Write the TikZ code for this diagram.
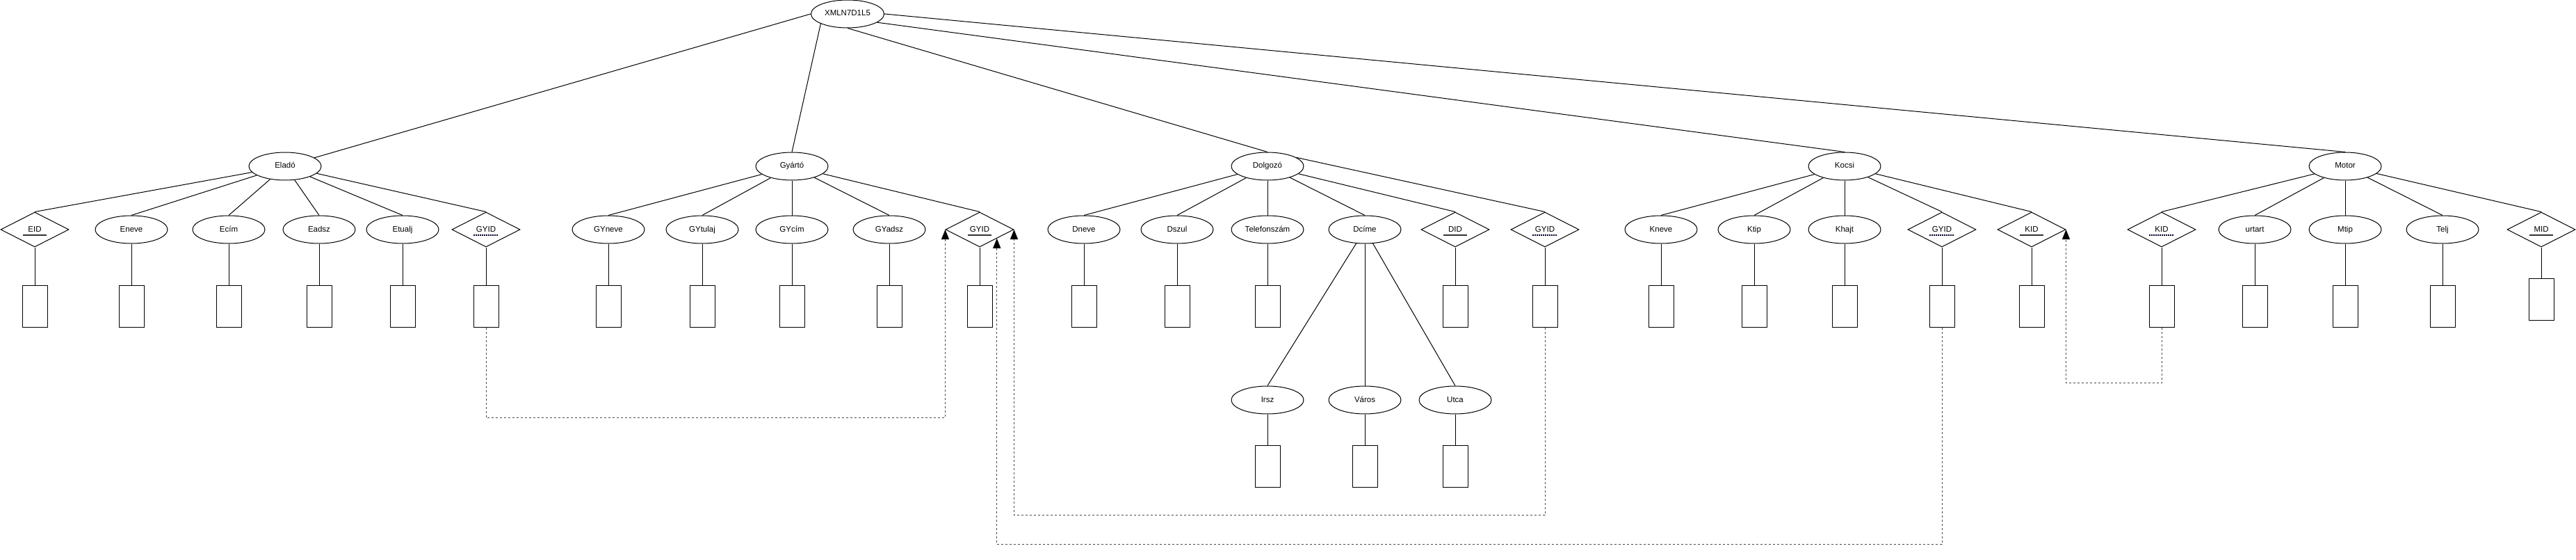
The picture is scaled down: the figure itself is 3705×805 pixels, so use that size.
\documentclass[tikz,border=0pt]{standalone}
\usepackage{fontspec}
\setmainfont{Liberation Sans}
\usetikzlibrary{shapes.geometric,arrows.meta,calc}
\begin{document}
\begin{tikzpicture}[x=1pt,y=-1pt,line width=1pt,
  every node/.style={font=\fontsize{11.5}{13}\selectfont, text height=8.4pt, text depth=2.4pt},
  ent/.style={draw, ellipse, minimum width=104pt, minimum height=40pt, inner sep=0pt},
  attr/.style={ent},
  keyd/.style={draw, diamond, aspect=2, minimum width=98pt, minimum height=50pt, inner sep=0pt},
  dom/.style={draw, rectangle, minimum width=36pt, minimum height=60pt, inner sep=0pt},
  fk/.style={black!70, dash pattern=on 3pt off 3pt, -{Triangle[length=14pt,width=11pt,fill=black,color=black]}},
  pkul/.style={line width=1.6pt, black!80},
  fkul/.style={line width=1.6pt, black!85!blue, dash pattern=on 2pt off 1pt},
]
\useasboundingbox (0,0) rectangle (3705,805);

% root and entities
\node[ent, minimum width=105pt] (root) at (1219,20) {XMLN7D1L5};
\node[ent] (Elado)   at (410,239)  {Eladó};
\node[ent] (Gyarto)  at (1139,239) {Gyártó};
\node[ent] (Dolgozo) at (1823,239) {Dolgozó};
\node[ent] (Kocsi)   at (2653,239) {Kocsi};
\node[ent] (Motor)   at (3373,239) {Motor};

% Elado attributes
\node[keyd] (EID)    at (50,330)  {EID};
\node[attr] (Eneve)  at (189,330) {Eneve};
\node[attr] (Ecim)   at (329,330) {Ecím};
\node[attr] (Eadsz)  at (459,330) {Eadsz};
\node[attr] (Etualj) at (579,330) {Etualj};
\node[keyd] (GYIDa)  at (699,330) {GYID};
% Gyarto attributes
\node[attr] (GYneve)  at (875,330)  {GYneve};
\node[attr] (GYtulaj) at (1010,330) {GYtulaj};
\node[attr] (GYcim)   at (1139,330) {GYcím};
\node[attr] (GYadsz)  at (1279,330) {GYadsz};
\node[keyd] (GYIDb)   at (1409,330) {GYID};
% Dolgozo attributes
\node[attr] (Dneve) at (1559,330) {Dneve};
\node[attr] (Dszul) at (1693,330) {Dszul};
\node[attr] (Tel)   at (1823,330) {Telefonszám};
\node[attr] (Dcime) at (1963,330) {Dcíme};
\node[keyd] (DID)   at (2093,330) {DID};
\node[keyd] (GYIDc) at (2222,330) {GYID};
% Kocsi attributes
\node[attr] (Kneve) at (2389,330) {Kneve};
\node[attr] (Ktip)  at (2523,330) {Ktip};
\node[attr] (Khajt) at (2653,330) {Khajt};
\node[keyd] (GYIDd) at (2793,330) {GYID};
\node[keyd] (KIDa)  at (2922,330) {KID};
% Motor attributes
\node[keyd] (KIDb)   at (3109,330) {KID};
\node[attr] (urtart) at (3243,330) {urtart};
\node[attr] (Mtip)   at (3373,330) {Mtip};
\node[attr] (Telj)   at (3513,330) {Telj};
\node[keyd] (MID)    at (3655,330) {MID};
% Dcime sub-attributes
\node[attr] (Irsz)  at (1823,575) {Irsz};
\node[attr] (Varos) at (1963,575) {Város};
\node[attr] (Utca)  at (2093,575) {Utca};

% key underlines
\foreach \k in {EID,GYIDb,DID,KIDa,MID}
  \draw[pkul] ([xshift=-17pt,yshift=-8pt]\k.center) -- ++(34,0);
\foreach \k in {GYIDa,GYIDc,GYIDd,KIDb}
  \draw[fkul] ([xshift=-18pt,yshift=-8pt]\k.center) -- ++(36,0);

% domain boxes
\foreach \n in {EID,Eneve,Ecim,Eadsz,Etualj,GYIDa,GYneve,GYtulaj,GYcim,GYadsz,GYIDb,Dneve,Dszul,Tel,DID,GYIDc,Kneve,Ktip,Khajt,GYIDd,KIDa,KIDb,urtart,Mtip,Telj}{
  \node[dom] (r\n) at ($(\n.center)+(0,110)$) {};
  \draw (\n.south) -- (r\n.north);
}
\node[dom] (rMID) at ($(MID.center)+(0,100)$) {};
\draw (MID.south) -- (rMID.north);
\foreach \n in {Irsz,Varos,Utca}{
  \node[dom] (r\n) at ($(\n.center)+(0,95)$) {};
  \draw (\n.south) -- (r\n.north);
}

% root connectors
\draw (root.west) -- (Elado);
\draw (root.200) -- (Gyarto.north);
\draw (root.south) -- (Dolgozo.north);
\draw (root.344) -- (Kocsi.north);
\draw (root.east) -- (Motor.north);

% entity to attribute connectors
\foreach \a in {EID,Eneve,Ecim,Eadsz,Etualj,GYIDa}
  \draw (Elado) -- (\a.north);
\foreach \a in {GYneve,GYtulaj,GYcim,GYadsz,GYIDb}
  \draw (Gyarto) -- (\a.north);
\foreach \a in {Dneve,Dszul,Tel,Dcime,DID}
  \draw (Dolgozo) -- (\a.north);
\draw (Dolgozo.17) -- (GYIDc.north);
\foreach \a in {Kneve,Ktip,Khajt,GYIDd,KIDa}
  \draw (Kocsi) -- (\a.north);
\foreach \a in {KIDb,urtart,Mtip,Telj,MID}
  \draw (Motor) -- (\a.north);
\foreach \a in {Irsz,Varos,Utca}
  \draw (Dcime) -- (\a.north);

% foreign key references
\coordinate (GYIDbSE) at ($(GYIDb.south)!0.5!(GYIDb.east)$);
\draw[fk] (rGYIDa.south) -- ++(0,130) -| (GYIDb.west);
\draw[fk] (rGYIDc.south) -- ++(0,270) -| (GYIDb.east);
\draw[fk] (rGYIDd.south) -- ++(0,312) -| (GYIDbSE);
\draw[fk] (rKIDb.south) -- ++(0,80) -| (KIDa.east);
\end{tikzpicture}
\end{document}
